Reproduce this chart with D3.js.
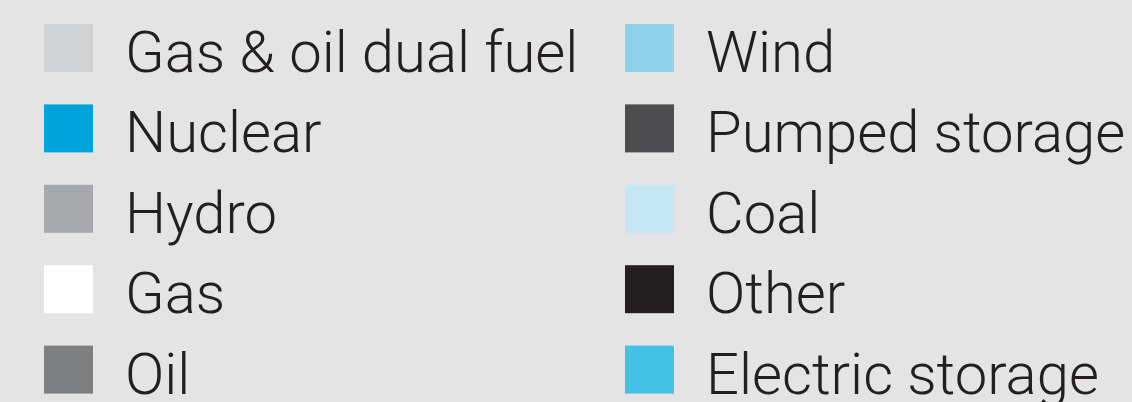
<!DOCTYPE html>
<meta charset="utf-8">
<script src="https://d3js.org/d3.v7.min.js"></script>
<style>
    body { margin: 0; background: #e4e4e4; }
    .legendText {
        font-family: Roboto, "Liberation Sans", sans-serif;
        font-weight: 300;
        font-size: 58px;
        fill: #231f20;
    }
</style>
<div id="chart"></div>
<script>
    // legend entries, two columns
    var leftLabels = ["Gas & oil dual fuel", "Nuclear", "Hydro", "Gas", "Oil"];
    var leftColors = ["#d1d2d4", "#00a3dc", "#a7a8ab", "#ffffff", "#7d7e80"];
    var rightLabels = ["Wind", "Pumped storage", "Coal", "Other", "Electric storage"];
    var rightColors = ["#8dd1eb", "#4d4d4f", "#c5e6f4", "#231f20", "#45c1e6"];

    const width = 1132, height = 402
    const svg = d3.select("#chart").append("svg")
        .attr("width", width)
        .attr("height", height)

    svg.append("rect")
        .attr("width", width)
        .attr("height", height)
        .attr("fill", "#e4e4e4")

    // row positions (last row runs past the bottom edge, as in the original)
    const y = d3.scaleBand()
        .domain(d3.range(5))
        .range([24, 426])
        .paddingInner(0)

    const sw = 49, sh = 48

    function drawColumn(labels, colors, x0, tx) {
        const g = svg.append("g")
        const rows = g.selectAll("g.row")
            .data(labels)
            .join("g")
            .attr("class", "row")
            .attr("transform", (d, i) => `translate(0,${y(i)})`)

        rows.append("rect")
            .attr("x", x0)
            .attr("y", 0)
            .attr("width", sw)
            .attr("height", sh)
            .attr("fill", (d, i) => colors[i])

        rows.append("text")
            .attr("class", "legendText")
            .attr("x", tx)
            .attr("y", sh)
            .text(d => d)
    }

    drawColumn(leftLabels, leftColors, 44, 125)
    drawColumn(rightLabels, rightColors, 625, 706)
</script>
